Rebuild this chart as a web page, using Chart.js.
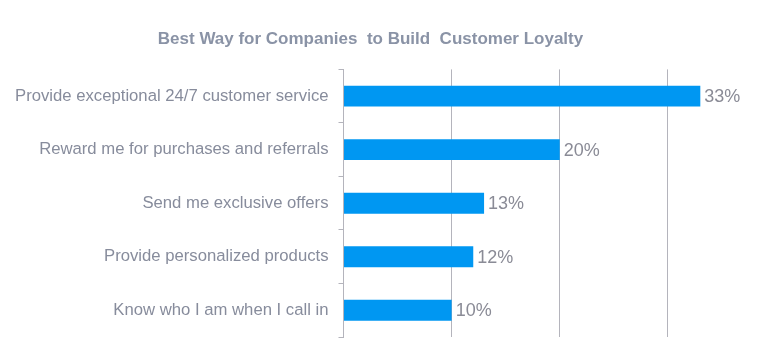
<!DOCTYPE html>
<html>
<head>
<meta charset="utf-8">
<script src="https://cdn.jsdelivr.net/npm/chart.js@4/dist/chart.umd.min.js"></script>
<style>
  html, body { margin: 0; padding: 0; background: #fff; }
  #wrap { width: 761px; height: 349px; }
</style>
</head>
<body>
<div id="wrap"><canvas id="loyaltyChart"></canvas></div>
<script>
// datos del gráfico
const categorias = [
    'Provide exceptional 24/7 customer service',
    'Reward me for purchases and referrals',
    'Send me exclusive offers',
    'Provide personalized products',
    'Know who I am when I call in'
];
const porcentajes = [33, 20, 13, 12, 10];
const tituloTexto = 'Best Way for Companies  to Build  Customer Loyalty';

const FUENTE = "Arial, 'Liberation Sans', sans-serif";
const GRIS_EJE = '#b4b4bc';

// plugin pequeño para poner el % al final de cada barra
const etiquetasPlugin = {
    id: 'etiquetas',
    afterDatasetsDraw(chart) {
        const ctx = chart.ctx;
        const meta = chart.getDatasetMeta(0);
        ctx.save();
        ctx.font = '18px ' + FUENTE;
        ctx.fillStyle = '#8a8b96';
        ctx.textAlign = 'left';
        ctx.textBaseline = 'middle';
        meta.data.forEach((bar, i) => {
            ctx.fillText(porcentajes[i] + '%', bar.x + 4, bar.y + 1);
        });
        ctx.restore();
    }
};

const ctx = document.getElementById('loyaltyChart').getContext('2d');
new Chart(ctx, {
    type: 'bar',
    data: {
        labels: categorias,
        datasets: [{
            data: porcentajes,
            backgroundColor: '#0097f2',
            borderWidth: 0,
            barPercentage: 0.39,
            categoryPercentage: 1
        }]
    },
    options: {
        indexAxis: 'y',
        responsive: true,
        maintainAspectRatio: false,
        animation: false,
        layout: { padding: { left: 5, right: 25, top: 0, bottom: 12 } },
        plugins: {
            legend: { display: false },
            tooltip: { enabled: false },
            title: {
                display: true,
                text: tituloTexto,
                color: '#8a93a6',
                font: { family: FUENTE, size: 17, weight: 'bold' },
                padding: { top: 29, bottom: 20 }
            }
        },
        scales: {
            x: {
                min: 0,
                max: 36.3,
                ticks: { display: false, stepSize: 10, includeBounds: false },
                grid: { color: GRIS_EJE, lineWidth: 1, drawTicks: false },
                border: { display: false }
            },
            y: {
                ticks: {
                    color: '#878c9c',
                    // lineHeight chico para que no reserve margen arriba/abajo
                    font: { family: FUENTE, size: 16.7, lineHeight: 0.2 },
                    padding: 10
                },
                grid: {
                    display: true,
                    drawOnChartArea: false,
                    offset: true,
                    tickLength: 5,
                    color: GRIS_EJE
                },
                border: { display: true, color: GRIS_EJE, width: 1 }
            }
        }
    },
    plugins: [etiquetasPlugin]
});
</script>
</body>
</html>
